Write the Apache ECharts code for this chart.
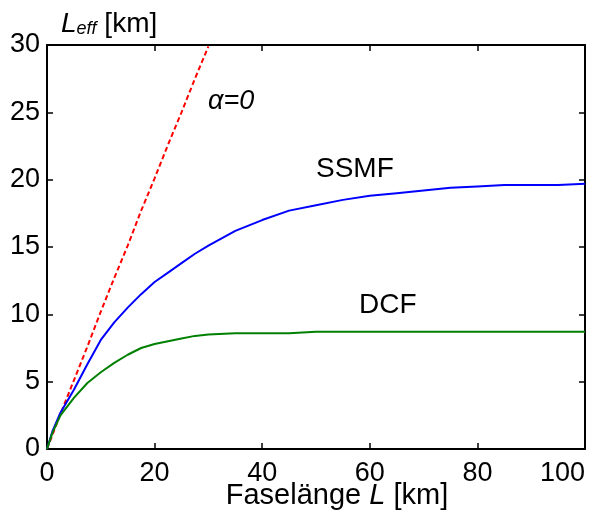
<!DOCTYPE html>
<html>
<head>
<meta charset="utf-8">
<script src="https://cdn.jsdelivr.net/npm/echarts@6/dist/echarts.min.js"></script>
<style>
    html, body { margin: 0; padding: 0; background: #fff; }
</style>
</head>
<body>
<div id="main" style="width: 593px;height:513px;"></div>
<script type="text/javascript">
    // Faselänge L [km]
    var L_alpha0 = [0, 2.5, 5, 7.5, 10, 12.5, 15, 17.5, 20, 22.5, 25, 27.5, 30];
    var Leff_alpha0 = [0, 2.6, 5.1, 7.6, 10.2, 12.7, 15.1, 17.7, 20.1, 22.6, 25.0, 27.5, 29.9];

    var L_fiber = [0, 1, 2.5, 5, 7.5, 10, 12.5, 15, 17.5, 20, 22.5, 25, 27.5, 30, 35, 40, 45, 50, 55, 60, 65, 70, 75, 80, 85, 90, 95, 100];
    var Leff_ssmf = [0, 1.3, 2.7, 4.4, 6.3, 8.1, 9.4, 10.5, 11.5, 12.4, 13.1, 13.8, 14.5, 15.1, 16.2, 17.0, 17.7, 18.1, 18.5, 18.8, 19.0, 19.2, 19.4, 19.5, 19.6, 19.6, 19.6, 19.7];
    var Leff_dcf = [0, 1.2, 2.5, 3.8, 4.9, 5.7, 6.4, 7.0, 7.5, 7.8, 8.0, 8.2, 8.4, 8.5, 8.6, 8.6, 8.6, 8.7, 8.7, 8.7, 8.7, 8.7, 8.7, 8.7, 8.7, 8.7, 8.7, 8.7];

    function pairs(xs, ys) {
        return xs.map(function (x, i) { return [x, ys[i]]; });
    }

    var fontFam = '"Liberation Sans", Arial, sans-serif';
    var fs = 27;
    var axisCommon = {
        axisLine: { show: true, onZero: false, lineStyle: { color: '#000', width: 2 } },
        axisTick: { show: true, inside: true, length: 6, lineStyle: { color: '#000', width: 1.5 } },
        splitLine: { show: false }
    };

    var myChart = echarts.init(document.getElementById('main'));
    var option = {
        animation: false,
        grid: { left: 47, right: 8, top: 45, bottom: 64, outerBoundsMode: 'none' },
        xAxis: [
            Object.assign({
                type: 'value', min: 0, max: 100, interval: 20, position: 'bottom',
                name: 'Faselänge {i|L} [km]', nameLocation: 'middle', nameGap: 32, nameMoveOverlap: false,
                nameTextStyle: { color: '#000', fontSize: 29, fontFamily: fontFam, verticalAlign: 'top',
                    padding: [0, 0, 0, 42],
                    rich: { i: { fontStyle: 'italic', fontSize: 29, fontFamily: fontFam, color: '#000' } } },
                axisLabel: { color: '#000', fontSize: fs, fontFamily: fontFam, margin: 11, alignMaxLabel: 'right' }
            }, axisCommon),
            Object.assign({
                type: 'value', min: 0, max: 100, interval: 20, position: 'top',
                axisLabel: { show: false }
            }, axisCommon)
        ],
        yAxis: [
            Object.assign({
                type: 'value', min: 0, max: 30, interval: 5, position: 'left',
                name: '{i|L}{s|eff} [km]', nameLocation: 'end', nameGap: 7,
                nameTextStyle: { color: '#000', fontSize: 28, fontFamily: fontFam, align: 'left',
                    padding: [0, 0, 0, 14],
                    rich: {
                        i: { fontStyle: 'italic', fontSize: 28, fontFamily: fontFam, color: '#000' },
                        s: { fontStyle: 'italic', fontSize: 18, fontFamily: fontFam, color: '#000', verticalAlign: 'bottom', padding: [10, 0, 0, 0] }
                    } },
                axisLabel: { color: '#000', fontSize: fs, fontFamily: fontFam, margin: 7 }
            }, axisCommon),
            Object.assign({
                type: 'value', min: 0, max: 30, interval: 5, position: 'right',
                axisLabel: { show: false }
            }, axisCommon)
        ],
        series: [
            {
                name: 'alpha0', type: 'line', showSymbol: false, smooth: false,
                data: pairs(L_alpha0, Leff_alpha0),
                lineStyle: { color: '#ff0000', width: 2, type: [5, 3] }
            },
            {
                name: 'SSMF', type: 'line', showSymbol: false, smooth: false,
                data: pairs(L_fiber, Leff_ssmf),
                lineStyle: { color: '#0000ff', width: 2 }
            },
            {
                name: 'DCF', type: 'line', showSymbol: false, smooth: false,
                data: pairs(L_fiber, Leff_dcf),
                lineStyle: { color: '#008000', width: 2 }
            }
        ],
        graphic: [
            { type: 'text', x: 208, y: 101, style: { text: 'α=0', fill: '#000', fontSize: 27, fontStyle: 'italic', fontFamily: fontFam, verticalAlign: 'middle' } },
            { type: 'text', x: 316, y: 169, style: { text: 'SSMF', fill: '#000', fontSize: 28, fontFamily: fontFam, verticalAlign: 'middle' } },
            { type: 'text', x: 359, y: 305, style: { text: 'DCF', fill: '#000', fontSize: 28, fontFamily: fontFam, verticalAlign: 'middle' } }
        ]
    };
    myChart.setOption(option);
</script>
</body>
</html>
